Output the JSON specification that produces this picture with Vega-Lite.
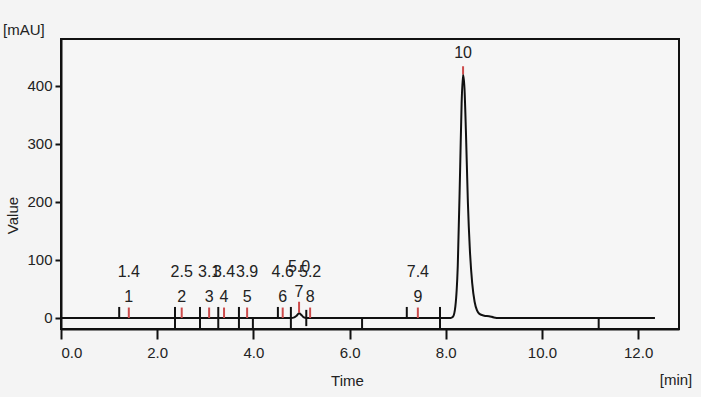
{
  "$schema": "https://vega.github.io/schema/vega-lite/v6.json",
  "width": 618,
  "height": 290,
  "autosize": {"type": "none"},
  "padding": {"left": 61, "top": 39, "right": 22, "bottom": 68},
  "background": "#f4f4f4",
  "title": {"text": "[mAU]", "anchor": "start", "frame": "group", "dx": -58, "offset": -18, "fontSize": 15, "fontWeight": "normal", "color": "#222", "font": "Liberation Sans, sans-serif"},
  "config": {
    "view": {"stroke": "#111", "strokeWidth": 2, "fill": "#f6f6f6"},
    "font": "Liberation Sans, sans-serif"
  },
  "datasets": {
    "chrom": [
      {"t": 0, "v": 0}, {"t": 4.78, "v": 0}, {"t": 4.85, "v": 1}, {"t": 4.9, "v": 4}, {"t": 4.95, "v": 8}, {"t": 5.0, "v": 5}, {"t": 5.05, "v": 1}, {"t": 5.1, "v": 0},
      {"t": 8.1, "v": 0}, {"t": 8.15, "v": 2}, {"t": 8.2, "v": 20}, {"t": 8.25, "v": 90}, {"t": 8.3, "v": 260}, {"t": 8.33, "v": 370}, {"t": 8.36, "v": 420}, {"t": 8.39, "v": 395}, {"t": 8.42, "v": 320}, {"t": 8.46, "v": 200}, {"t": 8.5, "v": 120}, {"t": 8.55, "v": 60}, {"t": 8.6, "v": 28}, {"t": 8.65, "v": 13}, {"t": 8.7, "v": 7}, {"t": 8.8, "v": 4}, {"t": 8.9, "v": 3}, {"t": 9.0, "v": 1}, {"t": 9.1, "v": 0}, {"t": 12.35, "v": 0}
    ],
    "marks": [
      {"t": 1.21, "lo": 0, "hi": 19}, {"t": 2.37, "lo": -19, "hi": 19}, {"t": 2.89, "lo": -19, "hi": 19}, {"t": 3.27, "lo": -19, "hi": 19}, {"t": 3.7, "lo": -19, "hi": 19}, {"t": 3.99, "lo": -19, "hi": 0}, {"t": 4.51, "lo": 0, "hi": 19}, {"t": 4.78, "lo": -19, "hi": 19}, {"t": 5.1, "lo": -14, "hi": 14}, {"t": 6.26, "lo": -19, "hi": 0}, {"t": 7.19, "lo": 0, "hi": 19}, {"t": 7.88, "lo": -19, "hi": 19}, {"t": 11.18, "lo": -19, "hi": 0}
    ],
    "peaks": [
      {"n": "1", "t": 1.41, "h": 0, "top": 18, "rt": "1.4"},
      {"n": "2", "t": 2.51, "h": 0, "top": 18, "rt": "2.5"},
      {"n": "3", "t": 3.08, "h": 0, "top": 18, "rt": "3.1"},
      {"n": "4", "t": 3.39, "h": 0, "top": 18, "rt": "3.4"},
      {"n": "5", "t": 3.87, "h": 0, "top": 18, "rt": "3.9"},
      {"n": "6", "t": 4.61, "h": 0, "top": 18, "rt": "4.6"},
      {"n": "7", "t": 4.95, "h": 9, "top": 28, "rt": "5.0"},
      {"n": "8", "t": 5.18, "h": 0, "top": 18, "rt": "5.2"},
      {"n": "9", "t": 7.42, "h": 0, "top": 18, "rt": "7.4"},
      {"n": "10", "t": 8.36, "h": 420, "top": 434, "rt": ""}
    ]
  },
  "layer": [
    {
      "data": {"name": "chrom"},
      "mark": {"type": "line", "color": "#111", "strokeWidth": 2, "interpolate": "monotone"},
      "encoding": {
        "x": {"field": "t", "type": "quantitative", "scale": {"domain": [0, 12.85], "nice": false, "zero": false},
          "axis": {"values": [0, 2, 4, 6, 8, 10, 12], "format": ".1f", "title": "Time", "grid": false, "tickSize": 10, "tickWidth": 2, "tickColor": "#111", "domainColor": "#111", "domainWidth": 2, "labelFontSize": 15, "labelColor": "#222", "labelPadding": 6, "titleFontSize": 15, "titleFontWeight": "normal", "titleColor": "#222", "titleX": 286, "titleY": 56, "titleBaseline": "alphabetic"}},
        "y": {"field": "v", "type": "quantitative", "scale": {"domain": [-19, 481], "nice": false, "zero": false},
          "axis": {"values": [0, 100, 200, 300, 400], "format": "d", "title": "Value", "grid": false, "tickSize": 6, "tickWidth": 2, "tickColor": "#111", "domainColor": "#111", "domainWidth": 2, "labelFontSize": 15, "labelColor": "#222", "labelPadding": 3, "titleFontSize": 15, "titleFontWeight": "normal", "titleColor": "#222", "titleX": -49, "titleY": 176, "titleBaseline": "middle"}}
      }
    },
    {
      "data": {"name": "marks"},
      "mark": {"type": "rule", "color": "#111", "strokeWidth": 2},
      "encoding": {
        "x": {"field": "t", "type": "quantitative"},
        "y": {"field": "lo", "type": "quantitative"},
        "y2": {"field": "hi"}
      }
    },
    {
      "data": {"name": "peaks"},
      "mark": {"type": "rule", "color": "#cc4b4b", "strokeWidth": 2},
      "encoding": {
        "x": {"field": "t", "type": "quantitative"},
        "y": {"field": "h", "type": "quantitative"},
        "y2": {"field": "top"}
      }
    },
    {
      "data": {"name": "peaks"},
      "mark": {"type": "text", "fontSize": 16, "color": "#222", "dy": -21, "baseline": "middle"},
      "encoding": {
        "x": {"field": "t", "type": "quantitative"},
        "y": {"field": "h", "type": "quantitative"},
        "text": {"field": "n"}
      }
    },
    {
      "data": {"name": "peaks"},
      "mark": {"type": "text", "fontSize": 16, "color": "#222", "dy": -46, "baseline": "middle"},
      "encoding": {
        "x": {"field": "t", "type": "quantitative"},
        "y": {"field": "h", "type": "quantitative"},
        "text": {"field": "rt"}
      }
    },
    {
      "data": {"values": [{"lab": "[min]"}]},
      "mark": {"type": "text", "fontSize": 15, "color": "#222", "dy": 56, "dx": -3, "baseline": "alphabetic", "align": "center"},
      "encoding": {
        "x": {"datum": 12.85, "type": "quantitative"},
        "y": {"datum": -19, "type": "quantitative"},
        "text": {"field": "lab"}
      }
    }
  ]
}
